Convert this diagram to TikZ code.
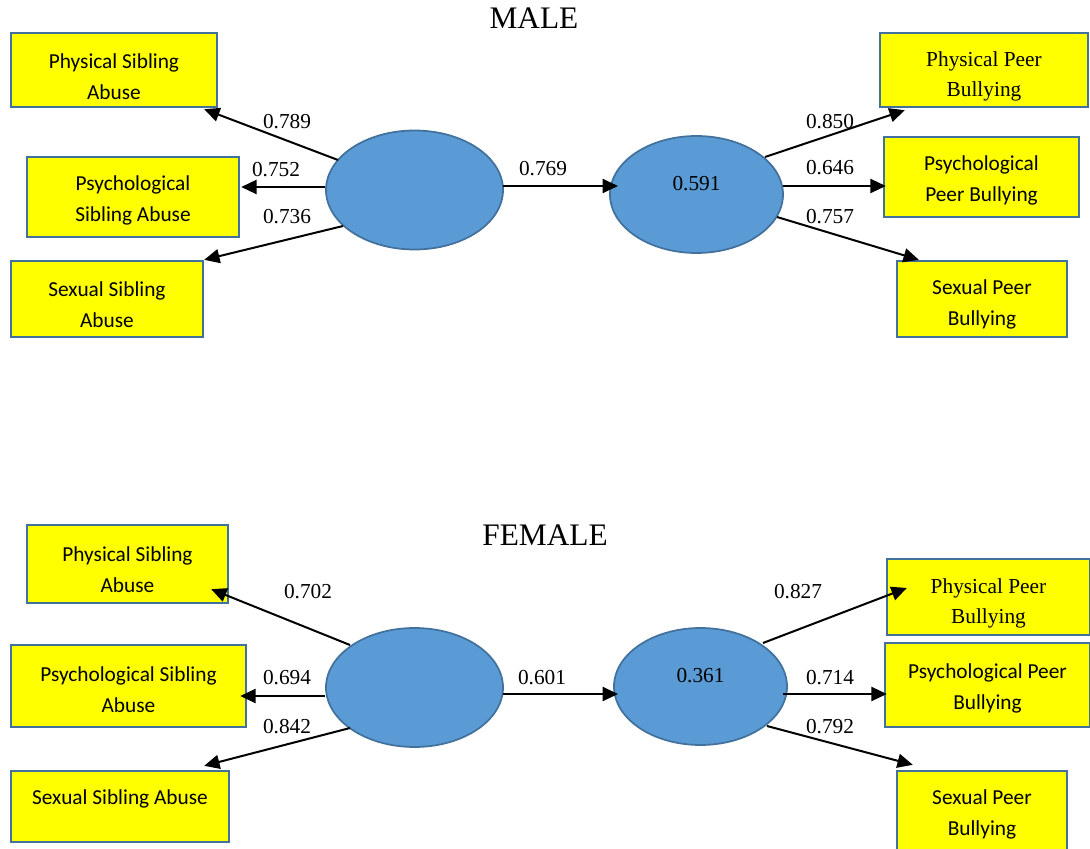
\documentclass[tikz,border=0pt]{standalone}
\usepackage{fontspec}
\setmainfont{Liberation Serif}
\newfontfamily\calibri{Carlito}
\usetikzlibrary{shapes.geometric,arrows.meta,calc}
\definecolor{boxyellow}{HTML}{FFFF00}
\definecolor{edgeblue}{HTML}{41719C}
\definecolor{latblue}{HTML}{5B9BD5}
\begin{document}
\begin{tikzpicture}[x=0.75pt,y=-0.75pt,
  box/.style={draw=edgeblue, line width=1.8pt, fill=boxyellow, rectangle, inner sep=0pt},
  btxt/.style={align=center, inner sep=0pt, font=\calibri\fontsize{16}{23.25}\selectfont},
  stxt/.style={align=center, inner sep=0pt, font=\fontsize{16}{22.5}\selectfont},
  latent/.style={draw=edgeblue, line width=1.3pt, fill=latblue, ellipse, inner sep=0pt},
  arr/.style={line width=1.5pt, -{Triangle[length=11.5pt,width=10.5pt]}},
  lab/.style={font=\fontsize{16}{19}\selectfont, inner sep=0pt},
  ttl/.style={font=\fontsize{23.5}{26}\selectfont, inner sep=0pt}]
\useasboundingbox (0,0) rectangle (1090,849);

% ---------------- MALE ----------------
\node[ttl] (tm) at (534,18) {MALE};
\node[box, minimum width=154.5pt, minimum height=55.5pt,
  label={[btxt, yshift=-5.25pt]center:Physical Sibling\\Abuse}] (PSA1) at (114,70) {};
\node[box, minimum width=159pt, minimum height=60pt,
  label={[btxt, yshift=-2.6pt]center:Psychological\\Sibling Abuse}] (PsySA1) at (133,197) {};
\node[box, minimum width=144pt, minimum height=57pt,
  label={[btxt, yshift=-4.1pt]center:Sexual Sibling\\Abuse}] (SSA1) at (107,299) {};
\node[box, minimum width=156pt, minimum height=55.5pt,
  label={[stxt, yshift=-4.5pt]center:Physical Peer\\Bullying}] (PPB1) at (984,70) {};
\node[box, minimum width=146.25pt, minimum height=60pt,
  label={[btxt, yshift=-2.6pt]center:Psychological\\Peer Bullying}] (PsyPB1) at (981.5,177) {};
\node[box, minimum width=127.5pt, minimum height=57pt,
  label={[btxt, yshift=-4.1pt]center:Sexual Peer\\Bullying}] (SPB1) at (982,299) {};
\node[latent, minimum width=132.75pt, minimum height=89.25pt] (L1) at (414.5,190) {};
\node[latent, minimum width=129.75pt, minimum height=87.75pt,
  label={[lab, yshift=7.9pt]center:0.591}] (R1) at (696.5,194.5) {};

\draw[arr] ($(L1)+(88,-4)$) -- ($(R1)+(-78.5,-8.5)$);
\draw[arr] ($(L1)+(-76.5,-30)$) -- ($(PSA1.south east)+(-14,1)$);
\draw[arr] ($(L1)+(-89.5,-3)$) -- ($(PsySA1.east)+(1,-10)$);
\draw[arr] ($(L1)+(-71.5,36)$) -- (SSA1.north east);
\draw[arr] ($(R1)+(68.5,-37.5)$) -- ($(PPB1.south west)+(26,2)$);
\draw[arr] ($(R1)+(86.5,-8.5)$) -- ($(PsyPB1.west)+(3,9)$);
\draw[arr] ($(R1)+(80.5,22.5)$) -- ($(SPB1.north west)+(23,0)$);

\node[lab] (m1) at (543,169) {0.769};
\node[lab] (m2) at (287,122) {0.789};
\node[lab] (m3) at (276,170) {0.752};
\node[lab] (m4) at (287,217) {0.736};
\node[lab] (m5) at (830,122) {0.850};
\node[lab] (m6) at (830,168) {0.646};
\node[lab] (m7) at (830,217) {0.757};

% ---------------- FEMALE ----------------
\node[ttl] (tf) at (545,535) {FEMALE};
\node[box, minimum width=150.75pt, minimum height=58.5pt,
  label={[btxt, yshift=-4.1pt]center:Physical Sibling\\Abuse}] (PSA2) at (127.5,564) {};
\node[box, minimum width=176.25pt, minimum height=61.5pt,
  label={[btxt, yshift=-2.6pt]center:Psychological Sibling\\Abuse}] (PsySA2) at (128.5,686) {};
\node[box, minimum width=163.5pt, minimum height=53.25pt,
  label={[btxt, yshift=5.5pt]center:Sexual Sibling Abuse}] (SSA2) at (120,806.5) {};
\node[box, minimum width=152.25pt, minimum height=57pt,
  label={[stxt, yshift=-4.5pt]center:Physical Peer\\Bullying}] (PPB2) at (988.5,597) {};
\node[box, minimum width=153.75pt, minimum height=63pt,
  label={[btxt, yshift=-2.2pt]center:Psychological Peer\\Bullying}] (PsyPB2) at (987.5,685) {};
\node[box, minimum width=127.5pt, minimum height=60.75pt,
  label={[btxt, yshift=-2.2pt]center:Sexual Peer\\Bullying}] (SPB2) at (982,811.5) {};
\node[latent, minimum width=132.75pt, minimum height=89.25pt] (L2) at (414.5,687.5) {};
\node[latent, minimum width=129.75pt, minimum height=87.75pt,
  label={[lab, yshift=7.9pt]center:0.361}] (R2) at (700.5,686.5) {};

\draw[arr] ($(L2)+(88,6.5)$) -- ($(R2)+(-82.5,7.5)$);
\draw[arr] ($(L2)+(-64.5,-42.5)$) -- ($(PSA2.south east)+(-18,-15)$);
\draw[arr] ($(L2)+(-89.5,8.5)$) -- ($(PsySA2.east)+(-7,10)$);
\draw[arr] ($(L2)+(-64.5,40.5)$) -- ($(SSA2.north east)+(-26,-4)$);
\draw[arr] ($(R2)+(62.5,-43.5)$) -- ($(PPB2.west)+(21,-9)$);
\draw[arr] ($(R2)+(82.5,7.5)$) -- ($(PsyPB2.west)+(3,9)$);
\draw[arr] ($(R2)+(66.5,39.5)$) -- ($(SPB2.north west)+(17,-5)$);

\node[lab] (f1) at (542,678) {0.601};
\node[lab] (f2) at (308,592) {0.702};
\node[lab] (f3) at (287,678) {0.694};
\node[lab] (f4) at (287,727) {0.842};
\node[lab] (f5) at (798,592) {0.827};
\node[lab] (f6) at (830,678) {0.714};
\node[lab] (f7) at (830,727) {0.792};
\end{tikzpicture}
\end{document}
